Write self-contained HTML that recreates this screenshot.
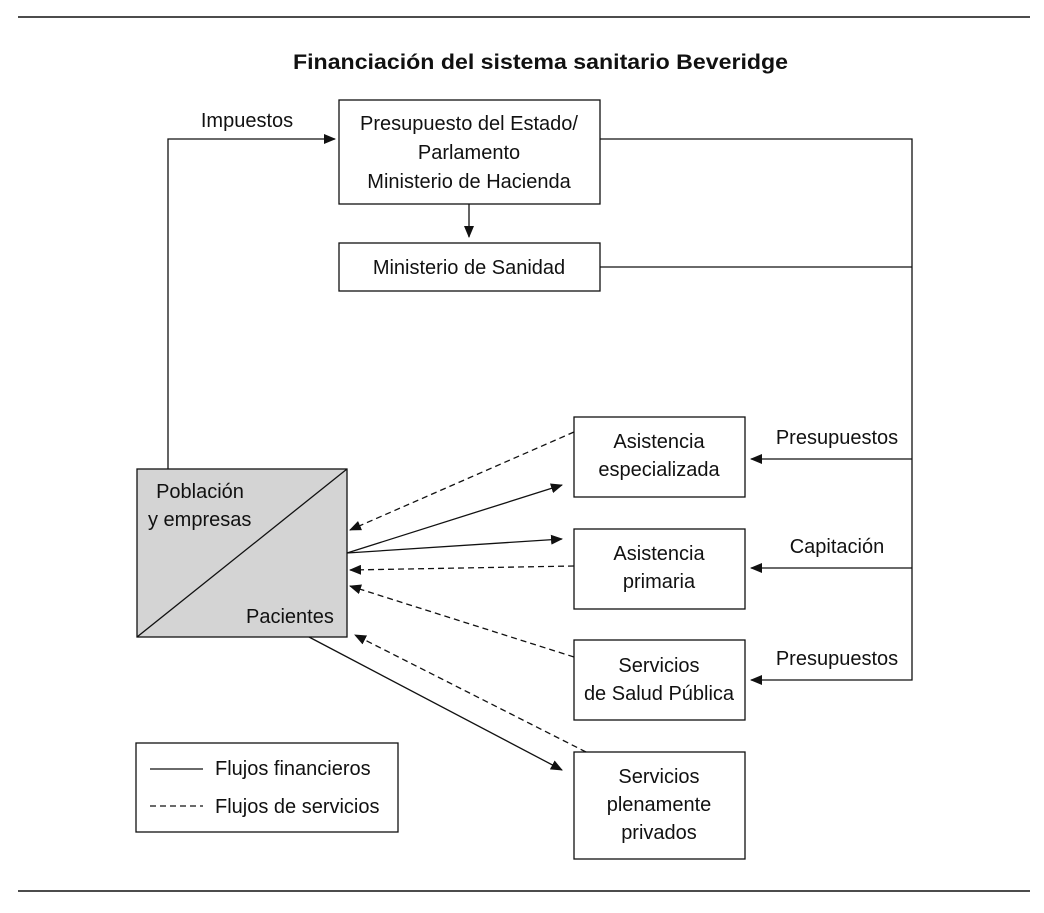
<!DOCTYPE html>
<html><head><meta charset="utf-8"><style>
html,body{margin:0;padding:0;background:#fff;}
svg{display:block;}
text{font-family:"Liberation Sans",sans-serif;font-size:20px;fill:#111;}
</style></head><body>
<svg width="1044" height="913" viewBox="0 0 1044 913">
<defs>
<marker id="a" markerWidth="12" markerHeight="10" refX="11" refY="5" orient="auto" markerUnits="userSpaceOnUse"><path d="M0,0 L12,5 L0,10 z" fill="#111"/></marker>
</defs>
<g stroke="#111" stroke-width="1.3" fill="none">
<line x1="18" y1="17" x2="1030" y2="17" stroke-width="1.6"/>
<line x1="18" y1="891" x2="1030" y2="891" stroke-width="1.6"/>
<rect x="339" y="100" width="261" height="104"/>
<rect x="339" y="243" width="261" height="48"/>
<rect x="137" y="469" width="210" height="168" fill="#d4d4d4"/>
<line x1="137" y1="637" x2="347" y2="469"/>
<rect x="574" y="417" width="171" height="80"/>
<rect x="574" y="529" width="171" height="80"/>
<rect x="574" y="640" width="171" height="80"/>
<rect x="574" y="752" width="171" height="107"/>
<rect x="136" y="743" width="262" height="89"/>
<polyline points="168,469 168,139 335,139" marker-end="url(#a)"/>
<line x1="469" y1="204" x2="469" y2="237" marker-end="url(#a)"/>
<polyline points="600,139 912,139 912,680 751,680" marker-end="url(#a)"/>
<line x1="600" y1="267" x2="912" y2="267"/>
<line x1="912" y1="459" x2="751" y2="459" marker-end="url(#a)"/>
<line x1="912" y1="568" x2="751" y2="568" marker-end="url(#a)"/>
<line x1="347" y1="553" x2="562" y2="485" marker-end="url(#a)"/>
<line x1="347" y1="553" x2="562" y2="539" marker-end="url(#a)"/>
<line x1="309" y1="637" x2="562" y2="770" marker-end="url(#a)"/>
<g stroke-dasharray="6,4">
<line x1="574" y1="432" x2="350" y2="530" marker-end="url(#a)"/>
<line x1="574" y1="566" x2="350" y2="570" marker-end="url(#a)"/>
<line x1="574" y1="657" x2="350" y2="586" marker-end="url(#a)"/>
<line x1="586" y1="752" x2="355" y2="635" marker-end="url(#a)"/>
<line x1="150" y1="806" x2="203" y2="806"/>
</g>
<line x1="150" y1="769" x2="203" y2="769"/>
</g>
<text x="293" y="69" font-weight="bold" textLength="495" lengthAdjust="spacingAndGlyphs" style="font-size:21px">Financiación del sistema sanitario Beveridge</text>
<text x="247" y="127" text-anchor="middle">Impuestos</text>
<g text-anchor="middle">
<text x="469" y="130">Presupuesto del Estado/</text>
<text x="469" y="159">Parlamento</text>
<text x="469" y="188">Ministerio de Hacienda</text>
<text x="469" y="274">Ministerio de Sanidad</text>
<text x="659" y="448">Asistencia</text>
<text x="659" y="476">especializada</text>
<text x="659" y="560">Asistencia</text>
<text x="659" y="588">primaria</text>
<text x="659" y="672">Servicios</text>
<text x="659" y="700">de Salud Pública</text>
<text x="659" y="783">Servicios</text>
<text x="659" y="811">plenamente</text>
<text x="659" y="839">privados</text>
<text x="837" y="444">Presupuestos</text>
<text x="837" y="553">Capitación</text>
<text x="837" y="665">Presupuestos</text>
<text x="200" y="498">Población</text>
</g>
<text x="148" y="526">y empresas</text>
<text x="246" y="623">Pacientes</text>
<text x="215" y="775">Flujos financieros</text>
<text x="215" y="813">Flujos de servicios</text>
</svg>
</body></html>
